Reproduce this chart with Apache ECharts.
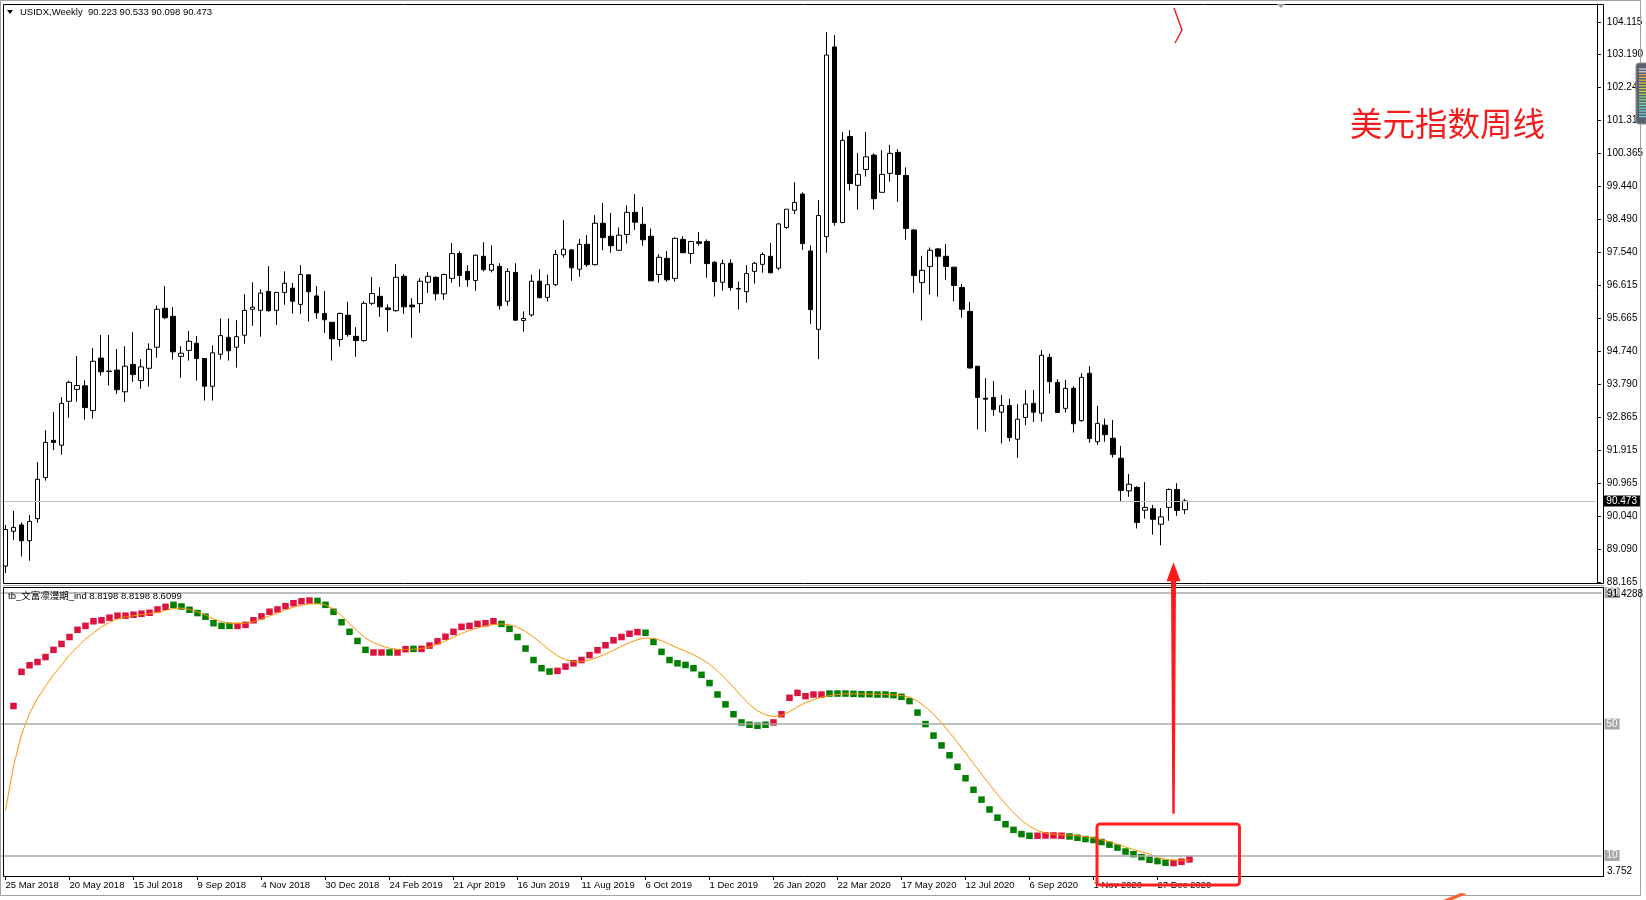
<!DOCTYPE html>
<html><head><meta charset="utf-8">
<script src="https://cdn.jsdelivr.net/npm/echarts@6/dist/echarts.min.js"></script>
<style>html,body{margin:0;padding:0;background:#fff;}#c{width:1646px;height:900px;}</style>
</head><body><div id="c"></div>
<script>
// ---------- DATA ----------
const symbolName = 'USIDX,Weekly';
const indicatorName = 'tb_文富凛漫期_ind';
const firstWeek = [2018, 2, 25]; // 25 Mar 2018 (weekly bars)
const slotCount = 200;           // visible bar slots on the time axis
const dateLabelEvery = 8;

const weekOpen = [88.62,89.61,89.79,89.34,89.97,91.14,92.20,92.06,93.31,93.65,93.75,93.05,94.54,94.17,94.20,93.58,94.36,93.90,94.25,94.85,
95.96,95.73,94.59,94.76,94.96,94.53,93.74,94.65,95.13,94.85,95.19,95.93,95.90,96.44,95.90,96.41,96.53,96.07,96.91,96.31,
95.81,95.56,95.07,95.76,95.16,95.04,96.10,96.30,95.97,95.89,96.87,96.05,96.09,96.70,96.84,96.37,96.81,97.52,97.01,96.75,
97.44,97.04,97.15,96.16,96.98,95.61,95.77,96.73,96.27,96.63,97.48,97.62,97.07,97.78,97.20,98.38,98.01,97.61,98.06,98.69,
98.35,98.01,96.92,97.38,96.81,97.92,97.52,97.85,97.86,97.27,96.70,97.24,96.52,96.43,97.01,97.21,97.44,97.10,98.26,98.75,
99.21,97.59,95.36,98.00,103.40,98.40,100.85,99.46,99.91,100.32,99.26,99.80,100.40,99.74,98.19,96.69,97.15,97.65,97.44,97.13,
96.55,95.87,94.31,93.40,93.42,93.00,93.19,92.23,92.85,93.25,92.97,94.56,93.85,93.11,93.68,92.76,94.11,92.16,92.63,92.26,
91.69,90.76,90.86,90.21,90.25,89.81,90.29,90.80,90.223];
const weekHigh = [89.79,90.19,89.86,90.07,91.58,92.49,93.01,93.43,93.90,94.60,93.91,94.83,95.20,95.20,94.80,94.88,95.28,94.51,94.96,96.04,
96.59,95.99,94.88,95.31,95.17,94.54,94.90,95.67,95.67,95.62,96.36,96.70,96.50,97.16,96.42,97.01,96.68,97.19,96.92,96.59,
96.45,95.56,95.84,96.14,95.42,96.16,96.85,96.56,96.07,97.22,96.93,96.25,96.82,96.99,96.87,96.95,97.82,97.58,97.18,97.49,
97.84,97.75,97.24,97.10,97.24,95.87,96.92,97.07,96.92,97.62,98.47,97.65,97.93,98.04,98.61,98.96,98.67,98.26,98.89,99.21,
98.84,98.23,97.50,97.59,97.98,98.01,97.88,98.13,97.92,97.30,97.34,97.36,96.72,97.19,97.28,97.55,97.82,98.39,98.78,99.55,
99.26,97.75,99.04,103.82,103.74,100.98,101.03,100.38,100.98,100.37,100.46,100.61,100.49,99.97,98.21,97.45,97.69,97.67,97.79,97.13,
96.65,96.14,94.31,93.97,93.89,93.49,93.38,93.23,93.63,93.63,94.77,94.66,93.94,93.92,93.74,94.11,94.31,93.18,92.82,92.78,
92.04,91.24,90.89,91.01,90.36,90.27,90.83,90.98,90.533];
const weekLow = [88.42,89.36,88.89,88.77,89.85,91.05,91.92,91.79,92.84,93.30,92.79,92.82,94.04,93.76,93.52,93.29,93.86,93.67,93.73,94.55,
95.65,94.50,93.98,94.47,93.90,93.33,93.33,94.50,94.47,94.27,94.95,95.46,95.15,95.86,95.49,96.06,95.81,95.80,95.58,95.66,
95.26,94.47,94.87,95.15,94.58,95.00,96.05,95.72,95.29,95.86,95.80,95.12,95.83,96.40,96.18,96.20,96.69,96.57,96.57,96.46,
97.01,96.98,95.92,96.03,95.60,95.29,95.72,96.25,96.15,96.59,97.40,96.74,96.86,97.14,97.18,97.61,97.54,97.60,97.80,98.19,
97.74,96.74,96.69,96.72,96.72,97.54,97.23,97.74,96.83,96.29,96.46,96.46,95.92,96.12,96.66,96.97,96.95,97.04,98.22,98.64,
97.62,95.51,94.51,97.54,98.31,98.38,99.31,98.77,99.71,98.77,99.26,99.56,98.99,97.91,96.40,95.61,96.35,96.29,96.77,96.15,
95.69,94.24,92.51,92.45,92.90,92.11,92.17,91.70,92.63,92.72,92.73,93.53,92.99,92.99,92.42,92.73,92.13,92.07,92.16,91.71,
90.45,90.59,89.69,89.97,89.51,89.21,89.91,90.05,90.098];
const weekClose = [89.66,89.72,89.34,89.89,91.09,92.14,92.14,93.25,93.85,93.76,93.13,94.45,94.15,94.16,93.64,94.31,94.07,94.29,94.79,95.93,
95.69,94.72,94.68,95.02,94.53,93.74,94.69,95.18,94.75,95.15,95.90,95.99,96.39,95.89,96.41,96.67,96.16,96.92,96.43,95.83,
95.63,95.09,95.81,95.21,95.04,96.10,96.38,96.00,95.92,96.84,96.00,96.00,96.73,96.87,96.37,96.92,97.52,96.89,96.77,97.47,
97.06,97.21,96.03,97.01,95.62,95.67,96.73,96.26,96.63,97.49,97.64,97.11,97.78,97.20,98.38,97.97,97.74,98.04,98.69,98.41,
97.91,96.74,97.41,96.77,97.95,97.54,97.86,97.81,97.23,96.72,97.23,96.55,96.51,96.95,97.24,97.49,96.97,98.36,98.78,98.97,
97.80,95.92,98.60,103.17,98.40,100.74,99.51,99.77,100.27,99.08,99.77,100.37,99.77,98.23,96.89,97.04,97.61,97.44,97.15,96.61,
95.93,94.26,93.42,93.37,93.08,93.19,92.28,92.80,93.23,93.00,94.62,93.87,92.99,93.68,92.67,93.99,92.25,92.68,92.36,91.80,
90.77,90.95,89.86,90.29,89.95,90.02,90.80,90.20,90.473];

const priceTicks = [104.115,103.190,102.240,101.315,100.365,99.440,98.490,97.540,96.615,95.665,94.740,93.790,92.865,91.915,90.965,90.040,89.090,88.165];
const priceMin = 88.137, priceMax = 104.622;

const indValue = [null,55.5,65.9,67.9,68.9,70.4,72.6,74.4,76.5,78.7,
79.9,81.3,81.6,82.4,83.0,83.0,83.3,83.6,83.9,84.9,
85.7,86.3,85.8,84.8,83.8,82.7,80.7,79.9,79.9,79.9,
80.2,81.6,82.8,84.2,84.9,85.9,86.8,87.4,87.6,87.5,
86.3,84.2,81.0,78.1,75.3,72.6,71.8,71.8,71.8,71.8,
72.8,72.9,72.9,73.9,75.2,76.6,78.1,79.6,79.9,80.5,
80.7,81.3,80.5,79.0,76.5,73.0,69.5,67.0,66.0,66.2,
67.5,68.5,69.5,71.0,72.5,74.0,75.5,76.5,77.5,78.0,
77.8,75.0,72.0,69.5,68.5,68.0,67.0,65.0,62.5,59.0,
56.0,53.0,50.5,49.8,49.5,49.8,50.5,53.0,58.0,59.5,
58.5,59.0,59.0,59.3,59.3,59.3,59.2,59.1,59.1,59.0,
59.0,58.8,58.3,57.0,53.5,50.0,46.5,43.5,40.5,37.0,
33.5,30.0,27.0,24.0,21.5,19.5,17.8,16.5,16.0,16.0,
16.1,16.1,16.0,15.8,15.4,15.0,14.7,14.1,13.3,12.4,
11.2,10.4,9.5,8.7,8.3,7.8,7.7,8.1,8.8198];
// colour of each square: R = rising (red), G = falling (green)
const indColorRuns = [['-',1],['R',20],['G',8],['R',10],['G',7],['R',2],['G',1],['R',2],['G',1],['R',10],
  ['G',7],['R',11],['G',16],['R',7],['G',26],['R',4],['G',13],['R',3]];
const indSignal = [23.7,37.2,46.8,53.2,57.8,61.5,65.0,68.0,71.0,73.5,
75.9,77.8,79.5,81.0,82.0,82.6,83.0,83.3,83.6,84.0,
84.6,85.2,85.3,84.9,84.2,83.2,82.0,81.2,80.7,80.6,
80.7,81.2,82.0,82.9,83.8,84.8,85.6,86.2,86.6,86.7,
86.3,85.0,83.0,80.6,78.3,76.2,74.8,73.8,73.1,72.7,
72.7,72.8,73.0,73.5,74.3,75.3,76.5,77.6,78.5,79.3,
79.9,80.3,80.5,80.2,79.5,78.2,76.5,74.5,72.5,70.8,
69.6,69.0,69.0,69.5,70.3,71.3,72.5,73.7,74.8,75.7,
76.2,76.1,75.4,74.3,73.2,72.2,71.1,69.8,68.2,66.2,
63.8,61.2,58.5,56.0,54.0,52.8,52.3,52.6,53.8,55.3,
56.5,57.4,58.2,58.7,59.0,59.2,59.2,59.2,59.1,59.1,
59.0,58.9,58.7,58.2,57.0,55.2,53.0,50.4,47.5,44.4,
41.2,38.0,34.8,31.6,28.6,25.7,23.0,20.7,18.9,17.6,
16.8,16.5,16.3,16.2,16.0,15.7,15.3,14.8,14.2,13.4,
12.6,11.8,11.1,10.4,9.3,8.8,8.55,8.5,8.6099];
const indLevels = [90, 50, 10];
const indMin = 3.752, indMax = 91.4288;

// ---------- BUILD ----------
const MONTHS = ['Jan','Feb','Mar','Apr','May','Jun','Jul','Aug','Sep','Oct','Nov','Dec'];
const cats = [];
for (let i = 0; i < slotCount; i++) {
  const d = new Date(Date.UTC(firstWeek[0], firstWeek[1], firstWeek[2]) + i * 7 * 864e5);
  cats.push(d.getUTCDate() + ' ' + MONTHS[d.getUTCMonth()] + ' ' + d.getUTCFullYear());
}
const indColor = [];
indColorRuns.forEach(([c, n]) => { for (let i = 0; i < n; i++) indColor.push(c); });
const nBars = weekOpen.length;
const ohlc = weekOpen.map((o, i) => [o, weekClose[i], weekLow[i], weekHigh[i]]);
const redPts = [], greenPts = [];
indValue.forEach((v, i) => {
  if (v == null) return;
  (indColor[i] === 'R' ? redPts : greenPts).push([i, v]);
});
const lastClose = weekClose[nBars - 1];
const showIdx = (idx) => idx % dateLabelEvery === 0 && idx < nBars;
const FONT = '"Liberation Sans", Arial, sans-serif';
const fmt3 = v => v.toFixed(3);

const chart = echarts.init(document.getElementById('c'), null, {renderer: 'canvas'});
const option = {
  animation: false,
  backgroundColor: '#ffffff',
  grid: [
    {left: 1.5, top: 4, width: 1600, height: 579},
    {left: 1.5, top: 588, width: 1600, height: 288}
  ],
  xAxis: [
    {type: 'category', gridIndex: 0, data: cats, boundaryGap: true,
     axisLine: {show: false}, axisTick: {show: false}, axisLabel: {show: false}, splitLine: {show: false}},
    {type: 'category', gridIndex: 1, data: cats, boundaryGap: true,
     axisLine: {show: false},
     axisTick: {show: true, interval: showIdx, alignWithLabel: true, length: 4, lineStyle: {color: '#000'}},
     axisLabel: {interval: showIdx, align: 'left', margin: 4, color: '#000', fontFamily: FONT, fontSize: 9.5},
     splitLine: {show: false}}
  ],
  yAxis: [
    {type: 'value', gridIndex: 0, position: 'right', offset: 1.5, min: priceMin, max: priceMax, scale: true,
     axisLine: {show: true, lineStyle: {color: '#000'}},
     axisTick: {show: true, length: 4, customValues: priceTicks, lineStyle: {color: '#000'}},
     axisLabel: {customValues: priceTicks, formatter: fmt3, margin: 10, color: '#000', fontFamily: FONT, fontSize: 10},
     splitLine: {show: false}},
    {type: 'value', gridIndex: 1, position: 'right', offset: 1.5, min: indMin, max: indMax,
     axisLine: {show: true, lineStyle: {color: '#000'}},
     axisTick: {show: false}, axisLabel: {show: false}, splitLine: {show: false}}
  ],
  series: [
    {type: 'candlestick', xAxisIndex: 0, yAxisIndex: 0, data: ohlc, barWidth: 5,
     itemStyle: {color: '#ffffff', color0: '#000000', borderColor: '#000000', borderColor0: '#000000', borderWidth: 1},
     markLine: {silent: true, symbol: 'none', animation: false,
       lineStyle: {color: '#c0c0c0', width: 1, type: 'solid'},
       label: {position: 'end', distance: 8, formatter: fmt3(lastClose), color: '#fff', backgroundColor: '#000',
               padding: [1, 3, 0, 3], fontFamily: FONT, fontSize: 10},
       data: [{yAxis: lastClose}]}},
    {type: 'scatter', xAxisIndex: 1, yAxisIndex: 1, data: redPts, symbol: 'rect', symbolSize: 6.5,
     itemStyle: {color: '#dc143c', opacity: 1}, z: 3},
    {type: 'scatter', xAxisIndex: 1, yAxisIndex: 1, data: greenPts, symbol: 'rect', symbolSize: 6.5,
     itemStyle: {color: '#008000', opacity: 1}, z: 3},
    {type: 'line', xAxisIndex: 1, yAxisIndex: 1, data: indSignal, showSymbol: false, symbol: 'none',
     lineStyle: {color: '#ff9200', width: 1}, z: 4,
     markLine: {silent: true, symbol: 'none', animation: false,
       lineStyle: {color: '#a8a8a8', width: 1.5, type: 'solid'},
       label: {position: 'end', distance: 3, formatter: p => String(p.value), color: '#fff', backgroundColor: '#a8a8a8',
               padding: [1, 2, 0, 2], fontFamily: FONT, fontSize: 10},
       data: indLevels.map(v => ({yAxis: v}))}}
  ]
};
chart.setOption(option);

// ---------- ANNOTATIONS / FRAME ----------
const lastSig = indSignal[indSignal.length - 1];
const lastInd = indValue[indValue.length - 1];
const hdr = symbolName + '  ' + [weekOpen[nBars-1], weekHigh[nBars-1], weekLow[nBars-1], weekClose[nBars-1]].map(fmt3).join(' ');
const indHdr = indicatorName + ' ' + lastInd.toFixed(4) + ' ' + lastInd.toFixed(4) + ' ' + lastSig.toFixed(4);
const pTop = chart.convertToPixel({yAxisIndex: 1}, indMax);
const pBot = chart.convertToPixel({yAxisIndex: 1}, indMin);
const arrowX = chart.convertToPixel({xAxisIndex: 1}, 146);
const arrowTipY = chart.convertToPixel({yAxisIndex: 0}, 88.73);
const arrowBaseY = chart.convertToPixel({yAxisIndex: 1}, 22.7);
const boxL = chart.convertToPixel({xAxisIndex: 1}, 137) - 4.5;
const boxR = chart.convertToPixel({xAxisIndex: 1}, 154) + 2;
const boxT = chart.convertToPixel({yAxisIndex: 1}, 19.6);

const bars = [];
const barCols = ['#e0e0e0','#f0a040','#f0b040','#e8c840','#d8d040','#c0d850','#a8e060','#90e080','#80e0a0','#70e0c0','#70d8d8','#70d0e0'];
for (let i = 0; i < 18; i++) {
  bars.push({type: 'line', shape: {x1: 1639, y1: 69 + i * 2.8, x2: 1646, y2: 69 + i * 2.8},
    style: {stroke: barCols[Math.min(barCols.length - 1, Math.floor(i * 0.7))], lineWidth: 1.2}, z: 101});
}

chart.setOption({graphic: {elements: [
  {type: 'rect', shape: {x: 0.5, y: 0.5, width: 1640, height: 895}, style: {fill: 'none', stroke: '#a0a0a0', lineWidth: 1}, z: 90, silent: true},
  {type: 'rect', shape: {x: 3.5, y: 4.5, width: 1600, height: 579}, style: {fill: 'none', stroke: '#000', lineWidth: 1}, z: 90, silent: true},
  {type: 'line', shape: {x1: 3, y1: 585.5, x2: 1604, y2: 585.5}, style: {stroke: '#b0b0b0', lineWidth: 1}, z: 90, silent: true},
  {type: 'rect', shape: {x: 3.5, y: 587.5, width: 1600, height: 289}, style: {fill: 'none', stroke: '#000', lineWidth: 1}, z: 90, silent: true},
  {type: 'polygon', shape: {points: [[7, 10], [13, 10], [10, 14]]}, style: {fill: '#000'}, z: 100},
  {type: 'text', x: 20, y: 12.5, style: {text: hdr, font: '9.5px ' + FONT, fill: '#000', verticalAlign: 'middle'}, z: 100},
  {type: 'text', x: 8, y: 596.5, style: {text: indHdr, font: '9.5px "Liberation Sans", "Noto Sans CJK SC", sans-serif', fill: '#000', verticalAlign: 'middle'}, z: 100},
  {type: 'text', x: 1607, y: pTop + 6, style: {text: String(indMax), font: '10px ' + FONT, fill: '#000', verticalAlign: 'middle'}, z: 100},
  {type: 'text', x: 1607, y: pBot - 5, style: {text: String(indMin), font: '10px ' + FONT, fill: '#000', verticalAlign: 'middle'}, z: 100},
  {type: 'polygon', shape: {points: [[1277, 4], [1285, 4], [1281, 8]]}, style: {fill: '#a0a0a0'}, z: 100},
  {type: 'rect', shape: {x: 1636, y: 63, width: 14, height: 61, r: 3}, style: {fill: '#5a6270', stroke: '#8a909a'}, z: 100},
  ...bars,
  {type: 'text', x: 1350, y: 124, style: {text: '美元指数周线', font: '32.5px "Noto Sans CJK SC"', fill: '#f41d1d', verticalAlign: 'middle'}, z: 100},
  {type: 'polyline', shape: {points: [[1174, 8], [1182, 30], [1175, 43]]}, style: {stroke: '#f02020', lineWidth: 1.5, fill: 'none'}, z: 100},
  {type: 'polygon', shape: {points: [[arrowX - 1.2, arrowBaseY], [arrowX + 1.2, arrowBaseY], [arrowX + 2.5, arrowTipY + 18], [arrowX - 2.5, arrowTipY + 18]]}, style: {fill: '#ff1a1a'}, z: 100},
  {type: 'polygon', shape: {points: [[arrowX, arrowTipY], [arrowX + 7, arrowTipY + 19], [arrowX - 7, arrowTipY + 19]]}, style: {fill: '#ff1a1a'}, z: 100},
  {type: 'rect', shape: {x: boxL, y: boxT, width: boxR - boxL, height: 885 - boxT, r: 3}, style: {fill: 'none', stroke: '#ff2020', lineWidth: 3}, z: 100},
  {type: 'polygon', shape: {points: [[1443, 900], [1461, 893], [1467, 894], [1452, 900]]}, style: {fill: '#ff6030'}, z: 100}
]}});
</script>
</body></html>
